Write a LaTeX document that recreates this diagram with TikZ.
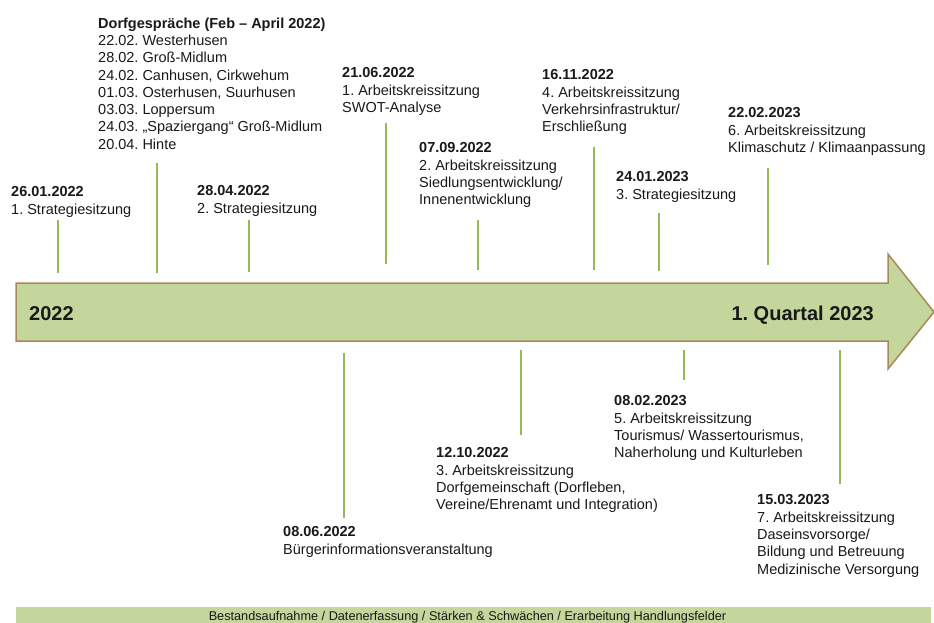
\documentclass[tikz,border=0pt]{standalone}
\usepackage{fontspec}
\setmainfont{Liberation Sans}
\usetikzlibrary{positioning}
\frenchspacing
\definecolor{SoftGreen}{RGB}{196,214,155}
\definecolor{EarthBrown}{RGB}{168,138,90}
\definecolor{StemGreen}{RGB}{150,186,86}
\definecolor{InkGray}{RGB}{25,25,25}
\tikzset{event/.style={anchor=north west,inner sep=0pt,align=left,text=InkGray,font=\fontsize{14.5}{17.3}\selectfont},
  stem/.style={StemGreen,line width=2pt},
  yearlabel/.style={inner sep=0pt,text=InkGray,font=\bfseries\fontsize{20}{20}\selectfont}}

\begin{document}
\begin{tikzpicture}[x=1pt,y=-1pt]
\useasboundingbox (0,0) rectangle (934,623);
% Zeitstrahl
\draw[EarthBrown,fill=SoftGreen,line width=1.5pt] (16,283)--(888,283)--(888,254)--(934,312)--(888,369)--(888,341)--(16,341)--cycle;
\node[yearlabel,anchor=base west] (y2022) at (29,320) {2022};
\node[yearlabel,anchor=base east] (q2023) at (874,320) {1. Quartal 2023};
% Termine oberhalb
\node[event] (e2601) at (11,186.6) {\textbf{26.01.2022}\\1. Strategiesitzung};
\node[event] (dorf) at (98,17.4) {\textbf{Dorfgespräche (Feb – April 2022)}\\22.02. Westerhusen\\28.02. Groß-Midlum\\24.02. Canhusen, Cirkwehum\\01.03. Osterhusen, Suurhusen\\03.03. Loppersum\\24.03. „Spaziergang“ Groß-Midlum\\20.04. Hinte};
\node[event] (e2804) at (197,185.6) {\textbf{28.04.2022}\\2. Strategiesitzung};
\node[event] (e2106) at (342,67.6) {\textbf{21.06.2022}\\1. Arbeitskreissitzung\\SWOT-Analyse};
\node[event] (e0709) at (419,142.6) {\textbf{07.09.2022}\\2. Arbeitskreissitzung\\Siedlungsentwicklung/\\Innenentwicklung};
\node[event] (e1611) at (542,69.6) {\textbf{16.11.2022}\\4. Arbeitskreissitzung\\Verkehrsinfrastruktur/\\Erschließung};
\node[event] (e2401) at (616,171.6) {\textbf{24.01.2023}\\3. Strategiesitzung};
\node[event] (e2202) at (728,107.6) {\textbf{22.02.2023}\\6. Arbeitskreissitzung\\Klimaschutz / Klimaanpassung};
% Termine unterhalb
\node[event] (e0806) at (283,526.6) {\textbf{08.06.2022}\\Bürgerinformationsveranstaltung};
\node[event] (e1210) at (436,447.6) {\textbf{12.10.2022}\\3. Arbeitskreissitzung\\Dorfgemeinschaft (Dorfleben,\\Vereine/Ehrenamt und Integration)};
\node[event] (e0802) at (614,395.6) {\textbf{08.02.2023}\\5. Arbeitskreissitzung\\Tourismus/ Wassertourismus,\\Naherholung und Kulturleben};
\node[event] (e1503) at (757,494.6) {\textbf{15.03.2023}\\7. Arbeitskreissitzung\\Daseinsvorsorge/\\Bildung und Betreuung\\Medizinische Versorgung};
% Verbindungslinien
\foreach \x/\a/\b [count=\i] in {58/220/273,157/163/273,249/220/272,386/123/264,478/220/270,594/147/270,659/213/271,768/168/265,344/353/518,521/350/435,684/350/380,840/350/484}
  {\coordinate (s\i a) at (\x,\a);\coordinate (s\i b) at (\x,\b);\draw[stem] (s\i a)--(s\i b);}
% Leiste unten
\fill[SoftGreen] (16,607) rectangle (931,623);
\node[anchor=base,inner sep=0pt,text=InkGray,font=\fontsize{12.7}{12.7}\selectfont] (tasks) at (467.5,620.5) {Bestandsaufnahme / Datenerfassung / Stärken \& Schwächen / Erarbeitung Handlungsfelder};
\end{tikzpicture}
\end{document}
